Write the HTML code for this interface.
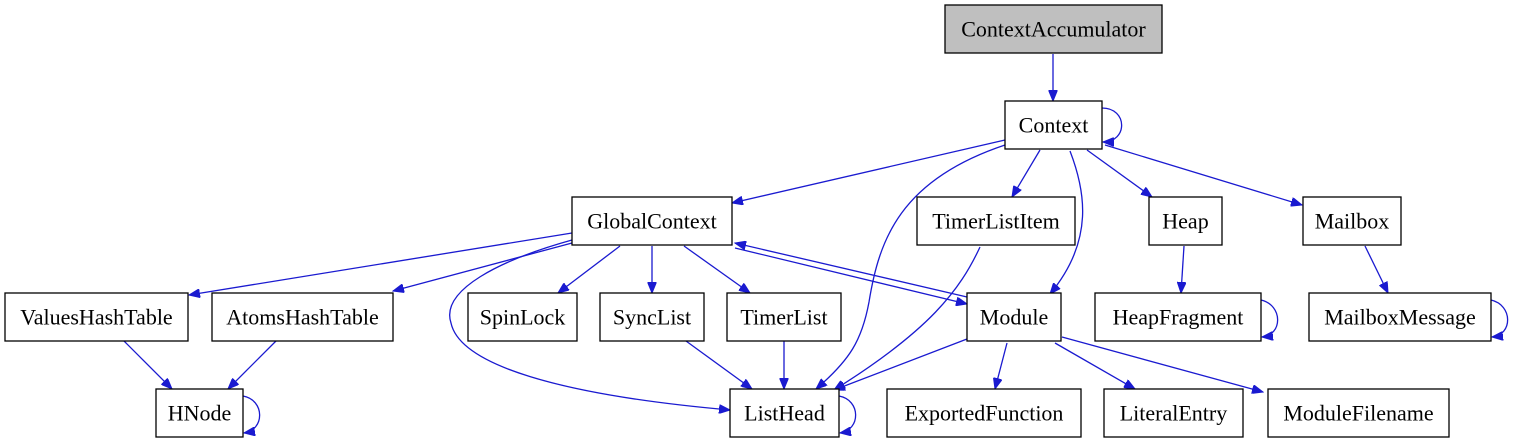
<!DOCTYPE html>
<html><head><meta charset="utf-8"><style>
html,body{margin:0;padding:0;background:#fff;}
svg{display:block;}
text{font-family:"Liberation Serif",serif;font-size:22px;fill:#000;text-anchor:middle;dominant-baseline:central;}
rect{fill:#fff;stroke:#000;stroke-width:1.3;}
.e{fill:none;stroke:#1a1ad0;stroke-width:1.3;}
</style></head><body>
<svg width="1517" height="443" viewBox="0 0 1517 443" xmlns="http://www.w3.org/2000/svg">
<defs><marker id="a" markerUnits="userSpaceOnUse" markerWidth="12" markerHeight="9" refX="11" refY="4.5" orient="auto"><path d="M0,0 L11,4.5 L0,9 z" fill="#1a1ad0" stroke="#1a1ad0"/></marker></defs>
<g marker-end="url(#a)">
<path class="e" d="M1053,54 L1053,101"/>
<path class="e" d="M1102,108 C1128,108 1128,142 1103,142"/>
<path class="e" d="M1005,140 L732,203"/>
<path class="e" d="M1005,145 C900,180 879,240 869,302 C862,340 850,360 816,389"/>
<path class="e" d="M1040,150 L1012,197"/>
<path class="e" d="M1070,151 C1085,190 1095,240 1050,294"/>
<path class="e" d="M1087,150 L1152,197"/>
<path class="e" d="M1105,145 L1302,205"/>
<path class="e" d="M980,247 C960,290 930,330 834,390"/>
<path class="e" d="M1184,246 L1181,293"/>
<path class="e" d="M1365,246 L1388,293"/>
<path class="e" d="M1261,300 C1283,305 1283,335 1262,337"/>
<path class="e" d="M1491,300 C1513,305 1513,335 1492,337"/>
<path class="e" d="M735,248 L967,304"/>
<path class="e" d="M967,297 L735,243"/>
<path class="e" d="M572,233 L189,295"/>
<path class="e" d="M572,243 L393,291"/>
<path class="e" d="M572,240 C500,260 440,290 451,323 C460,365 560,395 730,410"/>
<path class="e" d="M620,246 L558,293"/>
<path class="e" d="M652,246 L652,293"/>
<path class="e" d="M684,246 L750,293"/>
<path class="e" d="M686,341 L752,389"/>
<path class="e" d="M784,341 L784,389"/>
<path class="e" d="M967,339 L834,390"/>
<path class="e" d="M1007,343 L995,389"/>
<path class="e" d="M1055,343 L1135,389"/>
<path class="e" d="M1062,337 L1263,392"/>
<path class="e" d="M124,341 L172,389"/>
<path class="e" d="M276,341 L228,389"/>
<path class="e" d="M243,396 C265,400 265,430 244,433"/>
<path class="e" d="M839,396 C861,400 861,430 840,433"/>
</g>
<rect x="945" y="5" width="217" height="48" style="fill:#bfbfbf"/><text x="1053.5" y="29">ContextAccumulator</text>
<rect x="1005" y="101" width="97" height="48"/><text x="1053.5" y="125">Context</text>
<rect x="572" y="197" width="160" height="48"/><text x="652" y="221">GlobalContext</text>
<rect x="917" y="197" width="158" height="48"/><text x="996" y="221">TimerListItem</text>
<rect x="1149" y="197" width="73" height="48"/><text x="1185.5" y="221">Heap</text>
<rect x="1303" y="197" width="98" height="48"/><text x="1352" y="221">Mailbox</text>
<rect x="5" y="293" width="183" height="48"/><text x="96.5" y="317">ValuesHashTable</text>
<rect x="212" y="293" width="181" height="48"/><text x="302.5" y="317">AtomsHashTable</text>
<rect x="468" y="293" width="109" height="48"/><text x="522.5" y="317">SpinLock</text>
<rect x="600" y="293" width="104" height="48"/><text x="652" y="317">SyncList</text>
<rect x="727" y="293" width="114" height="48"/><text x="784" y="317">TimerList</text>
<rect x="967" y="293" width="94" height="48"/><text x="1014" y="317">Module</text>
<rect x="1095" y="293" width="166" height="48"/><text x="1178" y="317">HeapFragment</text>
<rect x="1309" y="293" width="182" height="48"/><text x="1400" y="317">MailboxMessage</text>
<rect x="156" y="389" width="87" height="48"/><text x="199.5" y="413">HNode</text>
<rect x="730" y="389" width="109" height="48"/><text x="784.5" y="413">ListHead</text>
<rect x="887" y="389" width="194" height="48"/><text x="984" y="413">ExportedFunction</text>
<rect x="1104" y="389" width="139" height="48"/><text x="1173.5" y="413">LiteralEntry</text>
<rect x="1268" y="389" width="181" height="48"/><text x="1358.5" y="413">ModuleFilename</text>
</svg>
</body></html>
